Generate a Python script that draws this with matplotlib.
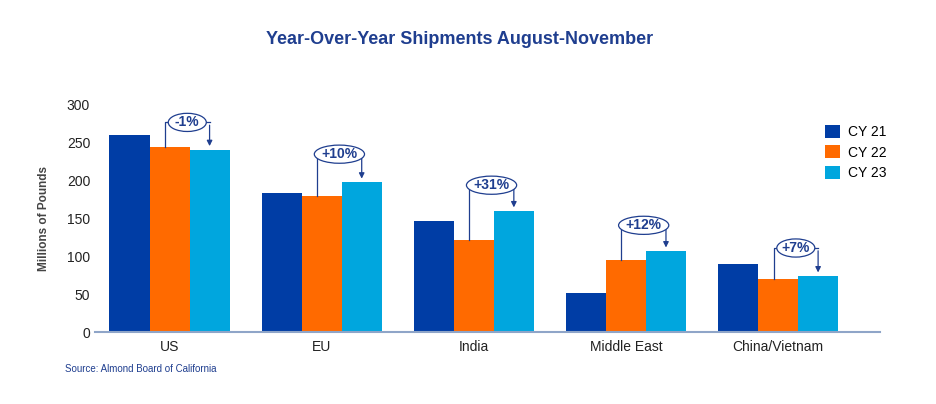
import matplotlib
matplotlib.use("Agg")
import matplotlib.pyplot as plt
from matplotlib.patches import Ellipse
import numpy as np

categories = ["US", "EU", "India", "Middle East", "China/Vietnam"]
cy21 = [261, 184, 147, 51, 90]
cy22 = [244, 180, 121, 95, 70]
cy23 = [241, 198, 160, 107, 74]
changes = ["-1%", "+10%", "+31%", "+12%", "+7%"]
ann_level = [277, 235, 194, 141, 111]
series = ["CY 21", "CY 22", "CY 23"]
colors = ["#003DA5", "#FF6A00", "#00A6DE"]
navy = "#1F3E8F"

plt.rcParams['font.family'] = ['Liberation Sans', 'DejaVu Sans']
fig = plt.figure(figsize=(9.36, 4.04), dpi=100)
W, H = 936, 404
ax = fig.add_axes([95/W, (H-332)/H, (880-95)/W, (332-105)/H])
x = np.arange(len(categories))
w = 40/152
for i, (vals, c, lab) in enumerate(zip([cy21, cy22, cy23], colors, series)):
    ax.bar(x + (i-1)*w, vals, w, color=c, label=lab)
ax.set_xlim(-0.49, 4.67)
ax.set_ylim(0, 300)
ax.set_yticks(range(0, 301, 50))
ax.set_xticks(x)
ax.set_xticklabels(categories)
ax.tick_params(axis='both', length=0, labelsize=10, colors='#222222')
ax.tick_params(axis='x', pad=6)
for s in ['top', 'right', 'left']:
    ax.spines[s].set_visible(False)
ax.spines['bottom'].set_color('#8fa5c8')
ax.spines['bottom'].set_linewidth(1.5)
ax.set_ylabel("Millions of Pounds", fontsize=8.5, fontweight='bold', color='#444444', labelpad=12)

for i in range(len(categories)):
    x0 = x[i] - 0.03
    x1 = x[i] + w
    y = ann_level[i]
    ax.plot([x0, x0, x1], [cy22[i], y, y], color=navy, lw=0.9)
    ax.annotate("", xy=(x1, cy23[i] + 1), xytext=(x1, y),
                arrowprops=dict(arrowstyle='-|>', color=navy, lw=0.9, mutation_scale=8))
    cx = (x0 + x1) / 2
    ew = 0.33 if len(changes[i]) > 3 else 0.25
    ax.add_patch(Ellipse((cx, y), ew, 24, facecolor='white', edgecolor=navy, lw=0.9, zorder=5))
    ax.text(cx, y, changes[i], ha='center', va='center', fontsize=10, fontweight='bold',
            color=navy, zorder=6)

ax.legend(loc='upper left', bbox_to_anchor=(812/W, (H-112)/H), bbox_transform=fig.transFigure,
          frameon=False, fontsize=10, handlelength=1.1, handleheight=1.1, labelspacing=0.45,
          handletextpad=0.6)
fig.text(460/W, 1-40/H, "Year-Over-Year Shipments August-November", ha='center', va='center',
         fontsize=13, fontweight='bold', color=navy)
fig.text(65/W, 1-369/H, "Source: Almond Board of California", ha='left', va='center',
         fontsize=7, color=navy)
fig.savefig("out.png", dpi=100)
